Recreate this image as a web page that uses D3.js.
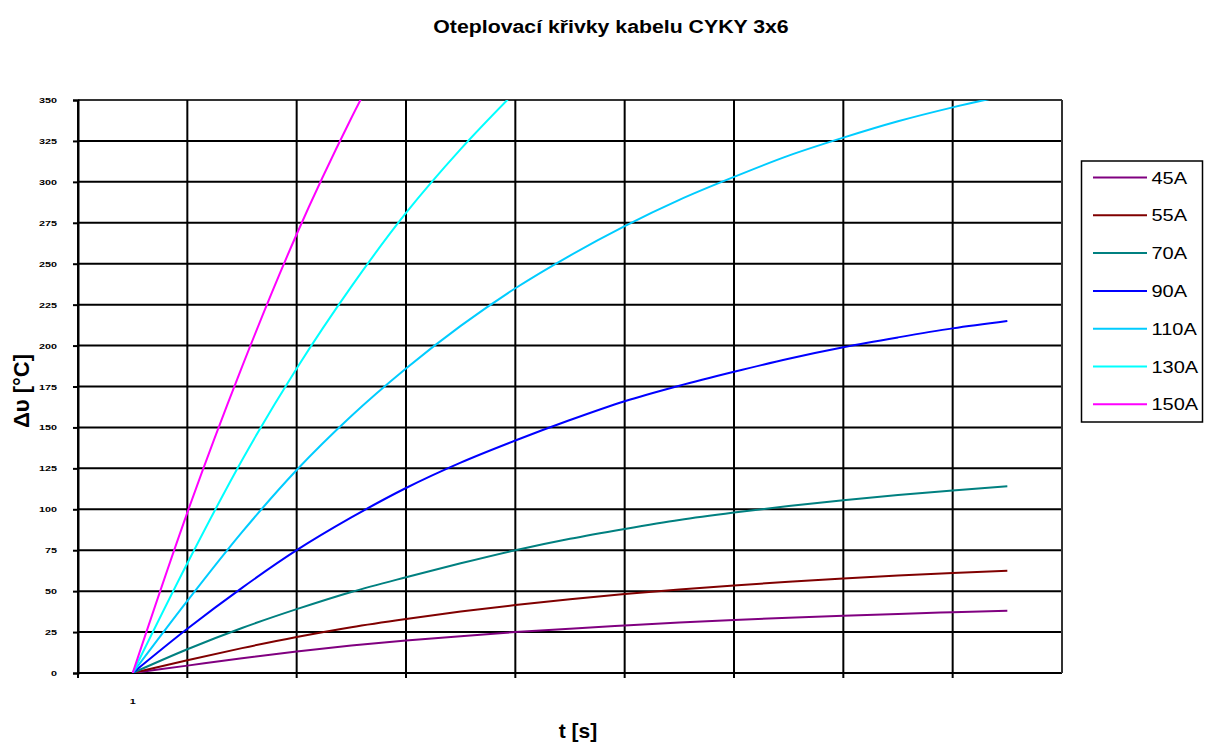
<!DOCTYPE html>
<html>
<head>
<meta charset="utf-8">
<script src="https://cdn.jsdelivr.net/npm/d3@7"></script>
<style>
  html, body { margin: 0; padding: 0; background: #fff; }
  svg { display: block; }
  text { font-family: "Liberation Sans", Arial, sans-serif; fill: #000; }
</style>
</head>
<body>
<svg id="chart" width="1213" height="742"></svg>
<script>
// Time steps (category 1..9 with half-step readings between them)
const steps = [1, 1.5, 2, 2.5, 3, 3.5, 4, 4.5, 5, 5.5, 6, 6.5, 7, 7.5, 8, 8.5, 9];

// Temperature rise [°C] for each load current
const rise45  = [0, 4.5, 9, 13.2, 16.8, 19.8, 22.5, 25, 27.1, 29, 30.8, 32.4, 33.8, 35, 36.1, 37.1, 38];
const rise55  = [0, 7.8, 15.2, 22, 28, 33, 37.5, 41.5, 45, 48.2, 51, 53.5, 55.7, 57.7, 59.5, 61.1, 62.5];
const rise70  = [0, 14.5, 27.5, 39, 49.5, 58.5, 67, 75, 82, 88, 93.5, 98, 102, 105.5, 108.7, 111.5, 114];
const rise90  = [0, 27, 52, 75, 95, 113, 128.5, 142, 154.5, 166, 175.5, 184, 192, 199, 205, 210.5, 215];
const rise110 = [0, 44, 86, 124, 157, 186, 212, 235, 255, 273, 289, 303, 316, 327, 337, 345.5, 353];
const rise130 = [0, 67, 130, 186, 236, 281, 320, 355];
const rise150 = [0, 98, 187, 268, 339, 402];

const seriesNames  = ["45A", "55A", "70A", "90A", "110A", "130A", "150A"];
const seriesValues = [rise45, rise55, rise70, rise90, rise110, rise130, rise150];
const seriesColors = ["#800080", "#800000", "#008080", "#0000FF", "#00CCFF", "#00FFFF", "#FF00FF"];

const yTicks = [0, 25, 50, 75, 100, 125, 150, 175, 200, 225, 250, 275, 300, 325, 350];
const xTickLabels = ["1"];
const xCategoryEdges = [0.5, 1.5, 2.5, 3.5, 4.5, 5.5, 6.5, 7.5, 8.5, 9.5];

const titleText = "Oteplovací křivky kabelu CYKY 3x6";
const yTitle = "Δυ [°C]";
const xTitle = "t [s]";

const svg = d3.select("#chart");
const plot = { left: 78, right: 1062, top: 100, bottom: 673 };

const x = d3.scaleLinear().domain([0.5, 9.5]).range([plot.left, plot.right]);
const y = d3.scaleLinear().domain([0, 350]).range([plot.bottom, plot.top]);

// title
svg.append("text")
  .attr("transform", "translate(611,33) scale(1.12,1)")
  .attr("text-anchor", "middle")
  .attr("font-weight", "bold")
  .attr("font-size", 19)
  .text(titleText);

// horizontal grid
svg.append("g")
  .selectAll("line")
  .data(yTicks)
  .join("line")
  .attr("x1", plot.left).attr("x2", plot.right)
  .attr("y1", d => y(d)).attr("y2", d => y(d))
  .attr("stroke", d => d === 350 ? "#333" : "#000").attr("stroke-width", 2);

// vertical grid with tick marks below the axis
svg.append("g")
  .selectAll("line")
  .data(xCategoryEdges)
  .join("line")
  .attr("x1", d => x(d)).attr("x2", d => x(d))
  .attr("y1", plot.top).attr("y2", d => d === 9.5 ? plot.bottom : plot.bottom + 5)
  .attr("stroke", d => d === 9.5 ? "#333" : "#000").attr("stroke-width", 2);

// y axis: ticks and labels
const yAxis = svg.append("g")
  .attr("transform", `translate(${plot.left},0)`)
  .call(d3.axisLeft(y).tickValues(yTicks).tickSize(5).tickPadding(16));
yAxis.select(".domain").attr("stroke", "#000").attr("stroke-width", 2);
yAxis.selectAll(".tick line").attr("stroke", "#000").attr("stroke-width", 2);
yAxis.selectAll(".tick text")
  .attr("x", null)
  .attr("transform", "translate(-21,0) scale(1.35,1)")
  .attr("font-size", 8)
  .attr("font-weight", "bold")
  .attr("fill", "#222")
  .style("font-family", "'Liberation Sans', Arial, sans-serif");

// x category label
svg.append("g")
  .selectAll("text")
  .data(xTickLabels)
  .join("text")
  .attr("transform", d => `translate(${x(+d)},704) scale(1.35,1)`)
  .attr("text-anchor", "middle")
  .attr("font-size", 8)
  .attr("font-weight", "bold")
  .attr("fill", "#222")
  .text(d => d);

// axis titles
svg.append("text")
  .attr("transform", "translate(29,391) rotate(-90)")
  .attr("text-anchor", "middle")
  .attr("font-weight", "bold")
  .attr("font-size", 22)
  .text(yTitle);

svg.append("text")
  .attr("transform", "translate(578,738)")
  .attr("text-anchor", "middle")
  .attr("font-weight", "bold")
  .attr("font-size", 21)
  .text(xTitle);

// series lines, clipped to the plot area
svg.append("clipPath").attr("id", "plotClip")
  .append("rect")
  .attr("x", plot.left).attr("y", plot.top)
  .attr("width", plot.right - plot.left).attr("height", plot.bottom - plot.top);

const line = d3.line()
  .x(d => x(d[0]))
  .y(d => y(d[1]))
  .curve(d3.curveMonotoneX);

svg.append("g")
  .attr("clip-path", "url(#plotClip)")
  .selectAll("path")
  .data(seriesValues)
  .join("path")
  .attr("d", vals => line(vals.map((v, i) => [steps[i], v])))
  .attr("fill", "none")
  .attr("stroke", (d, i) => seriesColors[i])
  .attr("stroke-width", 2);

// legend
const legend = svg.append("g").attr("transform", "translate(1081.5,161)");
legend.append("rect")
  .attr("width", 121).attr("height", 261)
  .attr("fill", "#fff").attr("stroke", "#000").attr("stroke-width", 1.5);
const items = legend.selectAll("g.item")
  .data(seriesNames)
  .join("g")
  .attr("class", "item")
  .attr("transform", (d, i) => `translate(0,${16.5 + i * 37.8})`);
items.append("line")
  .attr("x1", 11.5).attr("x2", 65.5)
  .attr("stroke", (d, i) => seriesColors[i]).attr("stroke-width", 2);
items.append("text")
  .attr("transform", "translate(70,6) scale(1.25,1)")
  .attr("font-size", 16)
  .text(d => d);
</script>
</body>
</html>
